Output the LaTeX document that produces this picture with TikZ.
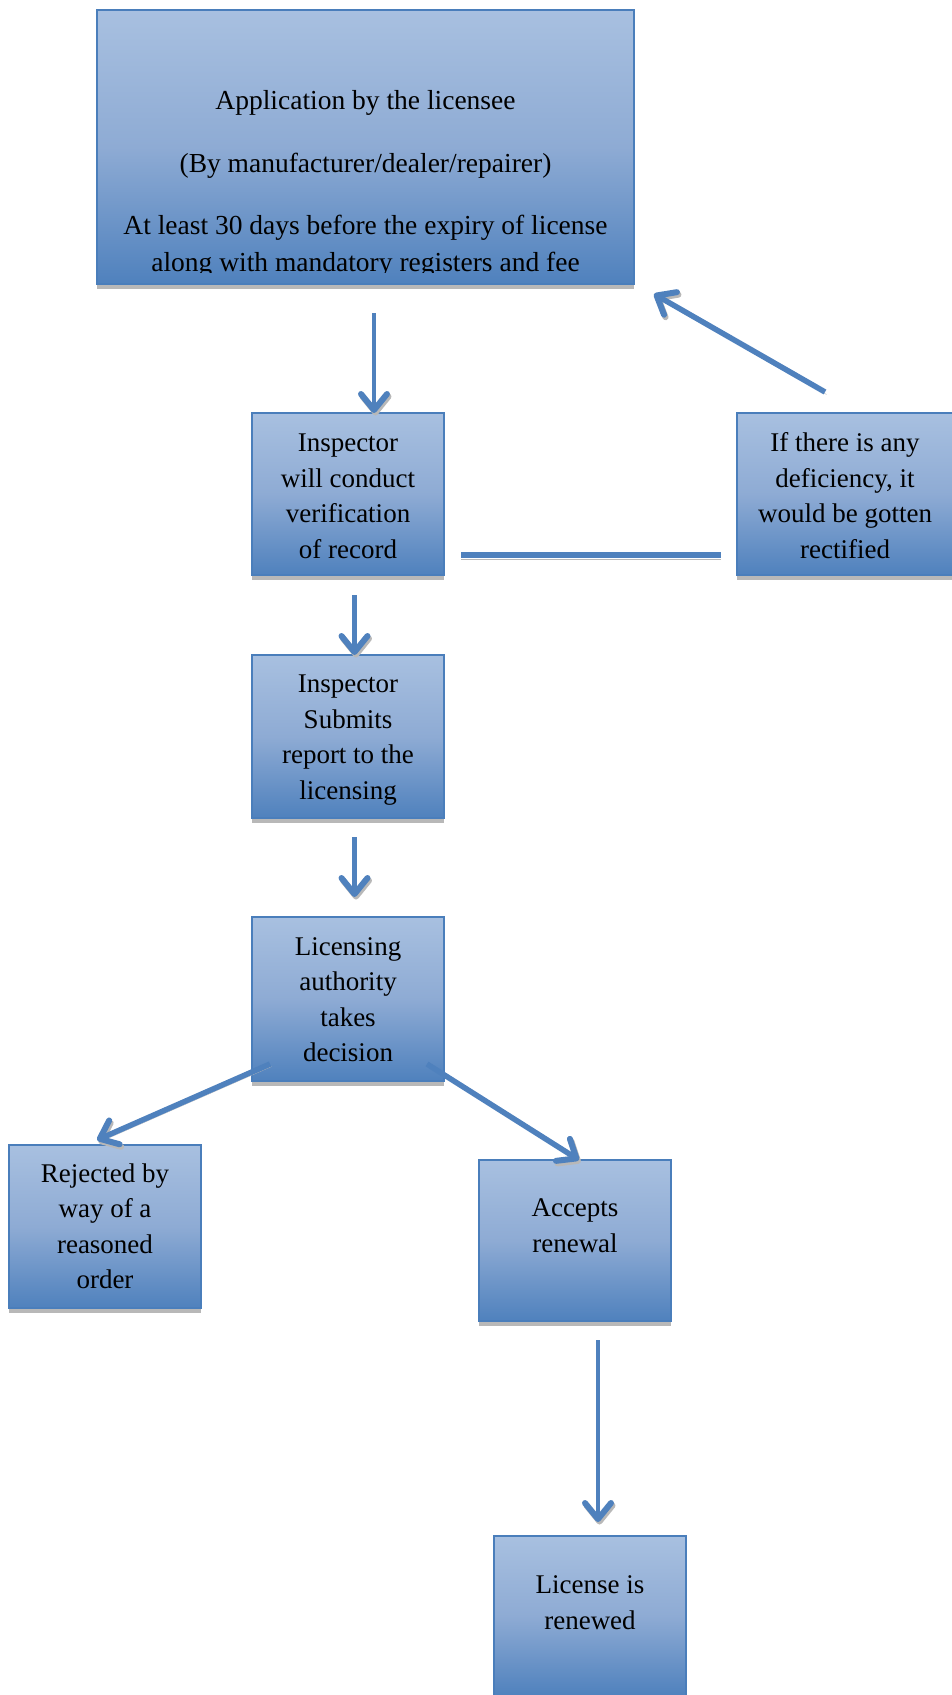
\documentclass[tikz,border=0pt]{standalone}
\usepackage{fontspec}
\setmainfont{Liberation Serif}
\usetikzlibrary{arrows.meta}
\definecolor{boxtop}{HTML}{A8C0E0}
\definecolor{boxmid}{HTML}{8EABD4}
\definecolor{boxbot}{HTML}{4F81BD}
\definecolor{boxline}{HTML}{4A7EBB}
\definecolor{arrowc}{HTML}{4F81BD}
\definecolor{shadowc}{HTML}{B8B8B8}
\newcommand{\boxtxt}[4]{\parbox[c][#2][t]{#1}{\centering\fontsize{27}{35.5}\selectfont\vspace*{#3}\strut #4}}
\tikzset{
  fbox/.style={rectangle, draw=boxline, line width=1.2pt, top color=boxtop, bottom color=boxbot, middle color=boxmid, inner sep=0pt, outer sep=0pt},
  conn/.style={draw=arrowc, line width=5.5pt, -{Straight Barb[length=16pt,width=26pt,round,line width=6pt]},
    preaction={draw=shadowc, transform canvas={shift={(1.5pt,-2.5pt)}}}},
  vconn/.style={conn, line width=4.5pt},
  connline/.style={draw=arrowc, line width=5.5pt,
    preaction={draw=shadowc, transform canvas={shift={(0pt,-4pt)}}}}
}
\begin{document}
\begin{tikzpicture}[x=1pt, y=-1pt]
\useasboundingbox[fill=white] (0,0) rectangle (952,1695);

% boxes
\node[fbox, minimum width=537pt, minimum height=274pt] (topbox) at (365.5,147) {};
\begin{scope}
\clip (topbox.north west) rectangle ([yshift=12pt]topbox.south east);
\node[anchor=north, inner sep=0pt] (toptext) at (topbox.north) {\parbox[c][274pt][t]{537pt}{\centering\fontsize{27.5}{37}\selectfont\vspace*{73pt}\strut Application by the licensee\\[26pt]
(By manufacturer/dealer/repairer)\\[25pt]
At least 30 days before the expiry of license\\
along with mandatory registers and fee}};
\end{scope}

\node[fbox] (insp) at (348,494) {\boxtxt{192pt}{162pt}{14pt}{Inspector\\ will conduct\\ verification\\ of record}};
\node[fbox] (defic) at (845,494) {\boxtxt{216pt}{162pt}{14pt}{If there is any\\ deficiency, it\\ would be gotten\\ rectified}};
\node[fbox] (report) at (348,736.5) {\boxtxt{192pt}{163pt}{13pt}{Inspector\\ Submits\\ report to the\\ licensing}};
\node[fbox] (decide) at (348,999) {\boxtxt{192pt}{164pt}{13.5pt}{Licensing\\ authority\\ takes\\ decision}};
\node[fbox] (reject) at (105,1226.5) {\boxtxt{192pt}{163pt}{12.5pt}{Rejected by\\ way of a\\ reasoned\\ order}};
\node[fbox] (accept) at (575,1240.5) {\boxtxt{192pt}{161pt}{32pt}{Accepts\\ renewal}};
\node[fbox] (renewed) at (590,1616) {\boxtxt{192pt}{160pt}{33pt}{License is\\ renewed}};

% box shadows
\foreach \b in {topbox,insp,defic,report,decide,reject,accept}{
  \fill[shadowc] ([yshift=-0.6pt]\b.south west) rectangle ([yshift=-4.5pt]\b.south east);
}

% connectors
\coordinate (a1s) at (374,313);
\draw[vconn] (a1s) -- (a1s |- insp.north);
\coordinate (a2s) at (354.5,595);
\draw[vconn] (a2s) -- (a2s |- report.north);
\coordinate (a3s) at (354.5,837);
\coordinate (a3e) at (354.5,897);
\draw[vconn] (a3s) -- (a3e);
\coordinate (bks) at (825,392);
\coordinate (bke) at (654,294);
\draw[conn] (bks) -- (bke);
\coordinate (h1) at (461,555);
\coordinate (h2) at (721,555);
\draw[connline] (h1) -- (h2);
\coordinate (ls) at (270,1064);
\coordinate (le) at (97,1140);
\draw[conn] (ls) -- (le);
\coordinate (rs) at (427,1064);
\draw[conn] (rs) -- ([xshift=4pt]accept.north);
\coordinate (bs) at (598,1340);
\coordinate (be) at (598,1522);
\draw[vconn] (bs) -- (be);
\end{tikzpicture}
\end{document}
